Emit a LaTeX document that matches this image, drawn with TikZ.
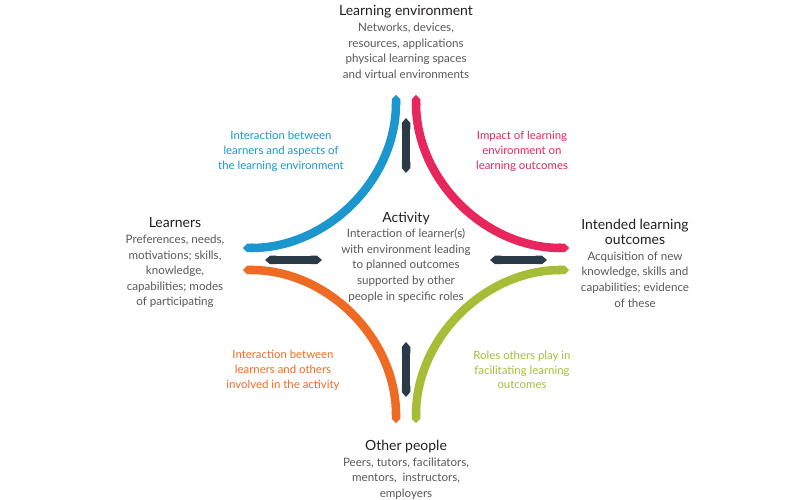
\documentclass[tikz,border=0pt]{standalone}
\usepackage{fontspec}
\setmainfont{Lato}
\usetikzlibrary{arrows.meta}
\definecolor{cblue}{HTML}{1C96CF}
\definecolor{cpink}{HTML}{E8265E}
\definecolor{corange}{HTML}{EE6B24}
\definecolor{cgreen}{HTML}{A6BD38}
\definecolor{cdark}{HTML}{2B3A47}
\definecolor{ctext}{HTML}{58595B}
\definecolor{ctitle}{HTML}{231F20}
\tikzset{
  arcline/.style={line width=8.5pt, {Triangle Cap[length=4pt]}-{Triangle Cap[length=4pt]}},
  dbl/.style={line width=8.5pt, cdark, {Triangle Cap[length=5pt]}-{Triangle Cap[length=5pt]}},
  block/.style={align=center, inner sep=0pt, text=ctext, font=\fontsize{11.6}{15.6}\selectfont},
  lab/.style={align=center, inner sep=0pt, font=\fontsize{11.4}{14.8}\selectfont},
}
\newcommand{\ttl}[1]{{\color{ctitle}\fontsize{14}{16}\selectfont #1}}
\begin{document}
\begin{tikzpicture}[x=1pt,y=1pt]
\useasboundingbox (0,0) rectangle (800,500);
\fill[white] (0,0) rectangle (800,500);
% arcs
\draw[arcline, cblue] (396,405) arc[start angle=0, end angle=-90, radius=153];
\draw[arcline, cpink] (416,405) arc[start angle=180, end angle=270, radius=153];
\draw[arcline, corange] (243,230) arc[start angle=90, end angle=0, radius=153];
\draw[arcline, cgreen] (569,230) arc[start angle=90, end angle=180, radius=153];
% dark arrows
\coordinate (vt1) at (406,382); \coordinate (vt2) at (406,327);
\coordinate (vb1) at (406,158); \coordinate (vb2) at (406,103);
\coordinate (hl1) at (265,240); \coordinate (hl2) at (322,240);
\coordinate (hr1) at (490,240); \coordinate (hr2) at (547,240);
\draw[dbl] (vt1) -- (vt2);
\draw[dbl] (vb1) -- (vb2);
\draw[dbl] (hl1) -- (hl2);
\draw[dbl] (hr1) -- (hr2);
% blocks
\node[block] (env) at (406,458) {\ttl{Learning environment}\\Networks, devices,\\resources, applications\\physical learning spaces\\and virtual environments};
\node[block] (lrn) at (175,237) {\ttl{Learners}\\Preferences, needs,\\motivations; skills,\\knowledge,\\capabilities; modes\\of participating};
\node[block] (ilo) at (635,237) {\ttl{Intended learning}\\\ttl{outcomes}\\Acquisition of new\\knowledge, skills and\\capabilities; evidence\\of these};
\node[block] (act) at (406,243) {\ttl{Activity}\\Interaction of learner(s)\\with environment leading\\to planned outcomes\\supported by other\\people in specific roles};
\node[block] (oth) at (406,30) {\ttl{Other people}\\Peers, tutors, facilitators,\\mentors,\ \ instructors,\\employers};
% labels
\node[lab, cblue] (lb) at (281,348.5) {Interaction between\\learners and aspects of\\the learning environment};
\node[lab, cpink] (lp) at (522,348.5) {Impact of learning\\environment on\\learning outcomes};
\node[lab, corange] (lo) at (283,130) {Interaction between\\learners and others\\involved in the activity};
\node[lab, cgreen] (lg) at (522,130) {Roles others play in\\facilitating learning\\outcomes};
\end{tikzpicture}
\end{document}
